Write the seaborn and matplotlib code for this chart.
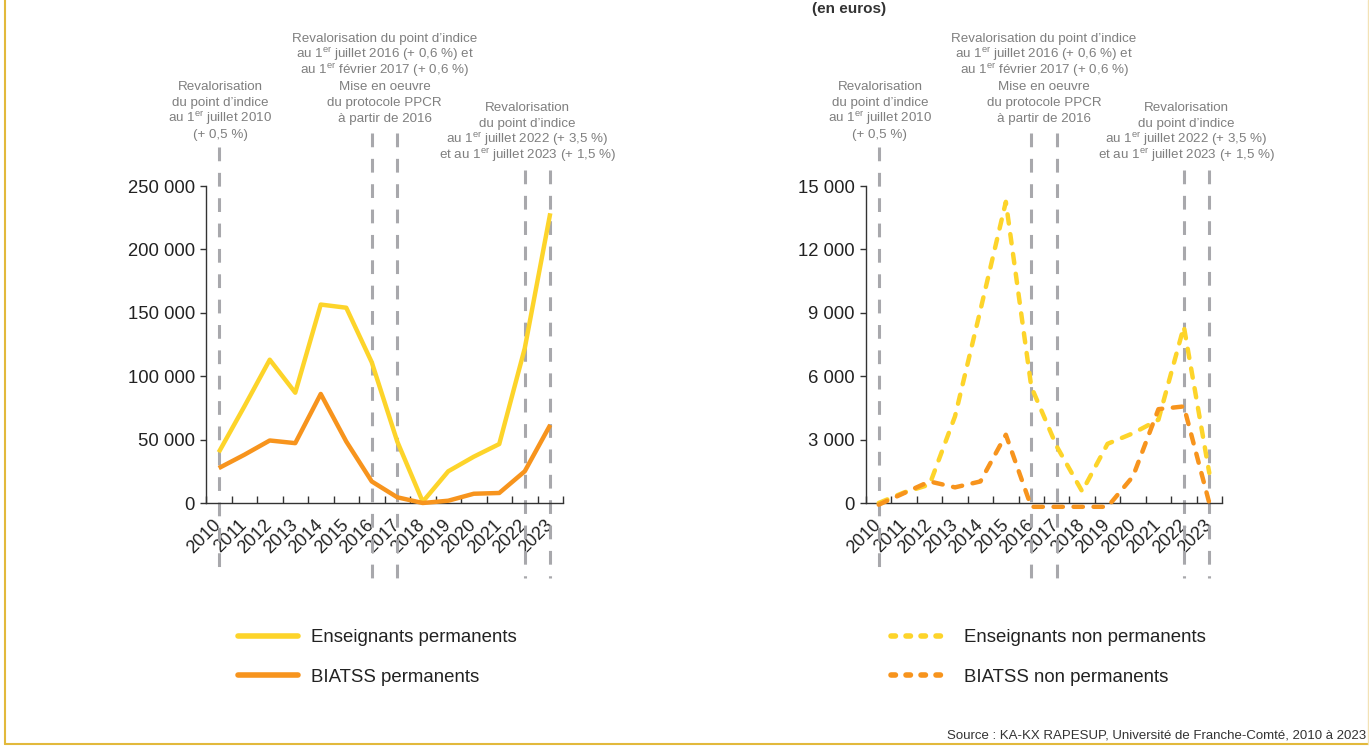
import matplotlib
matplotlib.use("Agg")
import matplotlib.pyplot as plt
import matplotlib.transforms as mtransforms
from matplotlib.lines import Line2D
from matplotlib.ticker import FixedLocator, FuncFormatter
import pandas as pd
import seaborn as sns

# ── Data ─────────────────────────────────────────────────────────────
years = list(range(2010, 2024))
ens_perm = [40000, 76000, 113000, 87000, 156500, 154000, 111000,
            48500, 1000, 25000, 36500, 46500, 122000, 228500]
biatss_perm = [27500, 38000, 49300, 47200, 86000, 48500, 17000,
               4500, 0, 1800, 7300, 7900, 25000, 61600]
ens_nonperm = [0, 500, 870, 4100, 9130, 14250, 5500,
               2680, 550, 2800, 3300, 3940, 8350, 1420]
biatss_nonperm = [-80, 470, 1020, 740, 1020, 3230, -180,
                  -180, -180, -180, 1260, 4440, 4570, 0]

left_labels = ["Enseignants permanents", "BIATSS permanents"]
right_labels = ["Enseignants non permanents", "BIATSS non permanents"]
left_ticks = [0, 50000, 100000, 150000, 200000, 250000]
right_ticks = [0, 3000, 6000, 9000, 12000, 15000]

event_years = [2010, 2016, 2017, 2022, 2023]
notes = [
    ["Revalorisation", "du point d’indice", "au 1$^{\\rm er}$ juillet 2010", "(+ 0,5 %)"],
    ["Revalorisation du point d’indice", "au 1$^{\\rm er}$ juillet 2016 (+ 0,6 %) et",
     "au 1$^{\\rm er}$ février 2017 (+ 0,6 %)", "Mise en oeuvre", "du protocole PPCR",
     "à partir de 2016"],
    ["Revalorisation", "du point d’indice", "au 1$^{\\rm er}$ juillet 2022 (+ 3,5 %)",
     "et au 1$^{\\rm er}$ juillet 2023 (+ 1,5 %)"],
]
title = "(en euros)"
source = "Source : KA-KX RAPESUP, Université de Franche-Comté, 2010 à 2023"

# ── Style ────────────────────────────────────────────────────────────
YELLOW = "#FDD42A"
ORANGE = "#F7941D"
GREY = "#A8A8AC"
GOLD = "#E2B93B"
W, H = 1369, 748

sns.set_style("white")
plt.rcParams["font.family"] = ["Liberation Sans", "DejaVu Sans"]
plt.rcParams["mathtext.fontset"] = "custom"
plt.rcParams["mathtext.rm"] = "Liberation Sans"
plt.rcParams["mathtext.it"] = "Liberation Sans"

fig = plt.figure(figsize=(W / 100, H / 100), dpi=100)
ax_l = fig.add_axes([206 / W, 1 - 503 / H, 357 / W, 317 / H])
ax_r = fig.add_axes([866 / W, 1 - 503 / H, 356 / W, 317 / H])

df_l = pd.DataFrame({"year": years * 2, "value": ens_perm + biatss_perm,
                     "serie": [left_labels[0]] * 14 + [left_labels[1]] * 14})
df_r = pd.DataFrame({"year": years * 2, "value": ens_nonperm + biatss_nonperm,
                     "serie": [right_labels[0]] * 14 + [right_labels[1]] * 14})

DASH = (2.1, 2.4)

for lbl, col in zip(left_labels, [YELLOW, ORANGE]):
    sns.lineplot(data=df_l[df_l.serie == lbl], x="year", y="value", color=col,
                 lw=3.2, ax=ax_l, legend=False, clip_on=False,
                 solid_capstyle="butt", zorder=3)
for lbl, col in zip(right_labels, [YELLOW, ORANGE]):
    sns.lineplot(data=df_r[df_r.serie == lbl], x="year", y="value", color=col,
                 lw=3.2, ax=ax_r, legend=False, clip_on=False,
                 dashes=DASH, dash_capstyle="round", zorder=3)


def fmt(v, _):
    return f"{v:,.0f}".replace(",", " ")


def style_axis(ax, ticks):
    ax.set_xlim(2009.5, 2023.5)
    ax.set_ylim(ticks[0], ticks[-1])
    ax.set_xlabel("")
    ax.set_ylabel("")
    for s in ("top", "right"):
        ax.spines[s].set_visible(False)
    for s in ("left", "bottom"):
        ax.spines[s].set_color("#333333")
        ax.spines[s].set_linewidth(1.0)
    ax.yaxis.set_major_locator(FixedLocator(ticks))
    ax.yaxis.set_major_formatter(FuncFormatter(fmt))
    ax.tick_params(axis="y", direction="out", length=4, width=1, color="#333333",
                   labelsize=13.3, labelcolor="#222222", pad=4, left=True)
    ax.xaxis.set_major_locator(FixedLocator([y - 0.5 for y in years] + [years[-1] + 0.5]))
    ax.xaxis.set_major_formatter(FuncFormatter(lambda v, _: ""))
    ax.xaxis.set_minor_locator(FixedLocator(years))
    ax.set_xticklabels([str(y) for y in years], minor=True, rotation=45,
                       ha="right", va="center", rotation_mode="anchor")
    ax.tick_params(axis="x", which="major", direction="in", length=5, width=1,
                   color="#333333", bottom=True)
    ax.tick_params(axis="x", which="minor", length=0, pad=14, labelsize=13,
                   labelcolor="#222222", bottom=True)
    ax.grid(False)

    tr = mtransforms.blended_transform_factory(ax.transData, fig.transFigure)
    tops = {2010: 147, 2016: 133, 2017: 133, 2022: 170, 2023: 170}
    for yr in event_years:
        ax.add_line(Line2D([yr, yr], [1 - tops[yr] / H, 1 - 578 / H], transform=tr,
                           color=GREY, lw=2.2, dashes=(4.5, 3.8), clip_on=False, zorder=2))
    # one text per line keeps a steady 16 px spacing despite the superscripts
    for lines, xc, base in zip(notes, [2010.05, 2016.5, 2022.1], [90, 42, 111]):
        for i, line in enumerate(lines):
            ax.text(xc, 1 - (base + 16 * i) / H, line, transform=tr, ha="center",
                    va="baseline", fontsize=9.6, color="#7F7F7F")


style_axis(ax_l, left_ticks)
style_axis(ax_r, right_ticks)

# ── Legends ──────────────────────────────────────────────────────────
leg_kw = dict(loc="upper left", bbox_transform=fig.transFigure, frameon=False,
              fontsize=13.4, handlelength=3.2, handletextpad=0.72, labelspacing=1.22,
              borderpad=0, borderaxespad=0)
h_l = [Line2D([], [], color=c, lw=4, solid_capstyle="round") for c in (YELLOW, ORANGE)]
h_r = [Line2D([], [], color=c, lw=4, dashes=(0.8, 1.9), dash_capstyle="round")
       for c in (YELLOW, ORANGE)]
leg = ax_l.legend(h_l, left_labels, bbox_to_anchor=(238 / W, 1 - 629 / H), **leg_kw)
for t in leg.get_texts():
    t.set_color("#222222")
leg = ax_r.legend(h_r, right_labels, bbox_to_anchor=(891 / W, 1 - 629 / H), **leg_kw)
for t in leg.get_texts():
    t.set_color("#222222")

# ── Frame, title remnant and source ─────────────────────────────────
fig.text(849 / W, 1 - 2 / H, title, ha="center", va="top",
         fontsize=11, fontweight="bold", color="#333333")
fig.text(1366 / W, 1 - 738 / H, source, ha="right", va="baseline",
         fontsize=9.5, color="#333333")
fig.add_artist(Line2D([5 / W, 5 / W], [1, 1 - 744 / H], transform=fig.transFigure,
                      color=GOLD, lw=1.5))
fig.add_artist(Line2D([5 / W, 1], [1 - 744 / H, 1 - 744 / H], transform=fig.transFigure,
                      color=GOLD, lw=1.5))
fig.add_artist(Line2D([1368 / W, 1368 / W], [1, 1 - 744 / H], transform=fig.transFigure,
                      color="#F3E2B5", lw=1))

fig.savefig("out.png", dpi=100)
